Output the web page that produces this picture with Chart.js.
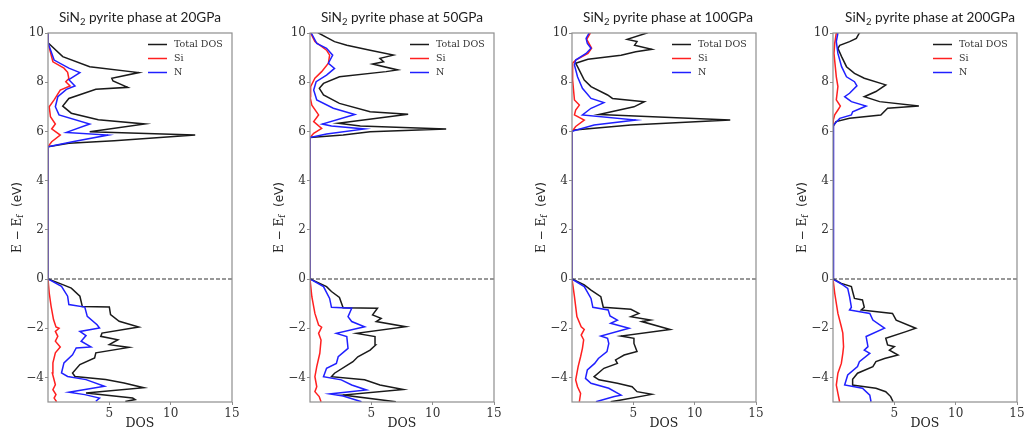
<!DOCTYPE html>
<html>
<head>
<meta charset="utf-8">
<script src="https://cdn.jsdelivr.net/npm/chart.js@4/dist/chart.umd.min.js"></script>
<style>
body{margin:0;background:#fff;overflow:hidden;width:1027px;height:434px;position:relative}
canvas{position:absolute;top:0}
</style>
</head>
<body>
<canvas id="c0"></canvas>
<canvas id="c1"></canvas>
<canvas id="c2"></canvas>
<canvas id="c3"></canvas>
<script>
// ---- data: energies (eV) and DOS for each curve ----

// 20 GPa
let e20tot=[-4.98,-4.9,-4.84,-4.63,-4.42,-4.23,-4.09,-3.96,-3.82,-3.48,-3.21,-3.0,-2.78,-2.67,-2.47,-2.33,-2.2,-1.95,-1.72,-1.45,-1.14,-1.12,-0.7,-0.37,-0.23,0,5.38,5.52,5.62,5.85,5.99,6.3,6.47,6.74,7.03,7.34,7.71,7.79,8.05,8.16,8.39,8.63,9.04,9.6,10];
let d20tot=[6.3,7.1,6.9,3.1,7.8,6.2,4.7,2.2,2.0,2.6,3.8,3.9,6.6,5.0,5.7,4.3,4.4,7.4,5.8,5.1,5.0,2.8,2.6,1.9,1.2,0,0,1.7,5.4,12.0,3.4,7.9,4.1,1.9,1.2,1.7,3.9,6.5,5.3,5.2,7.4,3.4,1.2,0,0];
let e20si=[-4.99,-4.84,-4.7,-4.5,-4.3,-3.82,-3.41,-3.0,-2.76,-2.53,-2.33,-2.13,-2.0,-1.95,-1.65,-1.1,-0.57,0,5.38,5.58,5.85,6.1,6.3,6.6,7.0,7.28,7.68,7.85,8.02,8.15,8.4,8.57,8.83,9.6,10];
let d20si=[0.7,0.5,0.65,0.4,0.6,0.35,0.4,0.6,1.0,0.6,0.8,0.6,0.9,0.65,0.45,0.25,0.1,0,0,0.3,1.0,0.3,0.6,0.2,0.1,0.5,1.0,1.8,1.45,1.7,1.6,1.3,0.4,0,0];
let e20n=[-4.97,-4.84,-4.7,-4.6,-4.36,-4.09,-3.96,-3.82,-3.41,-3.08,-2.8,-2.76,-2.53,-2.3,-2.13,-1.99,-1.86,-1.52,-1.14,-1.04,-0.7,-0.3,0,5.38,5.58,5.85,5.96,6.3,6.67,7.0,7.41,7.71,7.85,8.1,8.39,8.57,8.9,9.6,10];
let d20n=[3.9,4.2,3.0,1.7,4.6,3.1,1.6,1.1,1.3,2.0,2.3,3.5,2.7,3.1,2.6,4.2,4.0,3.2,3.0,1.7,1.6,1.1,0,0,2.0,4.9,1.5,3.4,0.9,0.6,0.8,1.5,2.2,1.7,2.6,1.7,0.5,0,0];

// 50 GPa
let e50tot=[-4.99,-4.72,-4.49,-4.31,-4.1,-3.97,-3.83,-3.36,-3.16,-2.89,-2.68,-2.34,-2.21,-1.94,-1.73,-1.6,-1.46,-1.19,-1.17,-0.75,-0.51,-0.31,0,5.75,5.85,5.99,6.1,6.22,6.33,6.7,6.8,7.14,7.48,7.75,7.95,8.22,8.43,8.5,8.74,8.83,8.97,9.1,9.3,9.5,9.65,9.82,10.0,10.1];
let d50tot=[7.0,2.7,7.6,5.7,4.45,1.75,2.0,3.5,3.9,4.9,5.35,5.3,3.8,7.8,5.4,5.8,5.1,5.5,2.7,2.4,1.75,1.35,0,0,2.7,4.9,11.1,4.1,2.3,8.0,4.9,2.4,1.1,0.76,1.1,2.4,6.2,7.15,5.1,6.0,5.7,6.8,4.9,3.0,2.0,1.35,0.7,0.4];
let e50si=[-4.99,-4.78,-4.58,-4.38,-3.97,-3.56,-3.02,-2.48,-2.21,-1.96,-1.87,-1.4,-0.72,0,5.75,5.92,6.12,6.4,6.67,7.07,7.41,7.82,8.16,8.43,8.77,9.1,9.3,9.65,10.0];
let d50si=[0.9,0.75,0.4,0.55,0.4,0.55,0.8,0.9,0.7,0.95,0.7,0.4,0.15,0,0,0.3,0.95,0.3,0.7,0.15,0,0.05,0.4,0.95,1.5,1.6,1.35,0.4,0.05];
let e50n=[-4.99,-4.76,-4.67,-4.51,-4.31,-4.1,-3.97,-3.63,-3.43,-3.16,-2.82,-2.34,-2.21,-1.94,-1.73,-1.53,-1.19,-1.15,-0.79,-0.31,0,5.75,5.89,6.1,6.22,6.3,6.69,6.94,7.28,7.68,8.02,8.29,8.56,8.77,9.1,9.38,9.58,10.0];
let d50n=[4.2,2.7,1.6,4.6,3.4,2.55,1.1,1.35,2.15,2.3,3.1,3.0,2.15,4.45,3.4,3.1,3.4,1.75,1.6,1.1,0,0,1.35,4.45,1.75,1.0,3.65,1.9,0.55,0.3,0.5,1.35,2.0,1.5,1.85,1.35,0.55,0.1];

// 100 GPa
let e100tot=[-4.99,-4.92,-4.69,-4.58,-4.38,-4.24,-4.1,-3.97,-3.63,-3.43,-3.29,-3.09,-2.95,-2.62,-2.41,-2.32,-2.05,-1.73,-1.67,-1.53,-1.4,-1.23,-1.15,-0.72,-0.45,-0.24,0,6.0,6.06,6.26,6.46,6.69,7.0,7.21,7.34,7.48,7.82,8.09,8.63,8.77,8.93,9.1,9.24,9.34,9.5,9.65,9.74,10.0,10.1];
let d100tot=[3.15,4.0,6.5,5.3,4.9,3.7,2.2,1.8,2.6,3.7,3.55,4.25,5.3,5.05,5.05,4.0,8.0,5.7,6.4,4.8,5.45,4.8,2.55,2.35,1.55,1.0,0,0,0.2,4.8,12.9,2.2,5.05,5.9,3.3,2.9,1.55,1.0,0.45,0.3,1.3,4.0,5.2,6.5,5.1,5.3,4.5,6.1,6.5];
let e100si=[-4.99,-4.65,-4.38,-4.1,-3.56,-3.16,-2.82,-2.47,-2.28,-2.05,-1.94,-1.53,-0.72,0,6.0,6.2,6.46,6.67,6.87,7.07,7.28,8.09,8.77,8.9,9.17,9.38,9.74,10.0];
let d100si=[0.6,0.7,0.45,0.3,0.5,0.7,0.85,0.95,0.75,1.0,0.75,0.4,0.2,0,0,0.3,1.0,0.2,0.3,0.6,0.2,0.05,0.05,0.3,1.3,1.6,1.2,1.5];
let e100n=[-4.99,-4.78,-4.72,-4.44,-4.24,-4.04,-3.7,-3.43,-3.23,-2.95,-2.62,-2.41,-2.32,-2.0,-1.8,-1.67,-1.5,-1.26,-1.15,-0.79,-0.31,0,6.0,6.26,6.46,6.67,6.94,7.17,7.34,7.75,8.22,8.7,8.9,9.17,9.38,9.58,9.78,10.0];
let d100n=[1.95,3.45,4.0,3.0,1.55,1.1,1.25,1.85,2.15,2.85,3.0,2.9,2.35,4.65,3.15,3.7,3.1,2.95,1.7,1.55,1.0,0,0,1.8,5.2,0.85,1.55,2.6,1.55,0.85,0.45,0.2,0.3,1.15,1.55,1.25,1.15,1.4];

// 200 GPa
let e200tot=[-4.99,-4.78,-4.58,-4.44,-4.31,-4.08,-3.83,-3.56,-3.36,-3.23,-3.09,-2.89,-2.75,-2.68,-2.41,-2.14,-2.0,-1.67,-1.4,-1.26,-1.15,-0.85,-0.79,-0.51,-0.31,-0.18,0,6.19,6.4,6.53,6.67,6.94,7.03,7.21,7.41,7.62,7.89,8.16,8.36,8.63,9.04,9.38,9.5,9.65,9.78,10.0,10.1];
let d200tot=[4.9,4.7,4.3,3.5,1.55,1.6,2.0,3.25,3.5,4.2,5.3,4.6,5.0,4.45,4.3,5.95,6.75,5.15,4.85,2.3,2.55,2.4,1.75,1.6,1.5,0.68,0,0,0.25,1.35,3.9,4.45,7.0,3.8,2.55,3.5,4.3,2.55,1.75,1.1,0.7,0.4,0.55,1.35,1.9,2.15,2.4];
let e200si=[-4.99,-4.65,-4.31,-3.83,-3.43,-3.02,-2.75,-2.2,-1.94,-1.4,-0.58,0,6.19,6.46,6.67,6.87,7.03,7.28,7.82,8.22,9.17,9.58,10.0];
let d200si=[0.54,0.4,0.27,0.4,0.68,0.8,0.86,0.8,0.68,0.4,0.14,0,0,0.05,0.14,0.4,0.6,0.27,0.4,0.27,0.08,0.14,0.27];
let e200n=[-4.99,-4.72,-4.44,-4.31,-3.9,-3.56,-3.36,-3.02,-2.89,-2.75,-2.34,-2.0,-1.67,-1.4,-1.26,-1.15,-0.72,-0.38,-0.24,0,6.19,6.26,6.53,6.67,6.8,7.03,7.21,7.41,7.55,7.85,8.02,8.22,8.63,9.17,9.65,10.0];
let d200n=[3.1,3.0,2.4,0.95,1.2,2.0,2.15,3.0,2.55,2.85,2.7,4.2,3.25,3.0,1.35,1.5,1.35,1.2,0.8,0,0,0.08,0.55,1.5,1.6,2.7,1.5,0.95,1.35,1.95,1.75,1.1,0.7,0.4,0.27,0.4];

let pressures=["20GPa","50GPa","100GPa","200GPa"];
let seriesNames=["Total DOS","Si","N"];
let fermiE=[0,0];
let fermiD=[0,15];

let curves=[
    [[e20tot,d20tot],[e20si,d20si],[e20n,d20n]],
    [[e50tot,d50tot],[e50si,d50si],[e50n,d50n]],
    [[e100tot,d100tot],[e100si,d100si],[e100n,d100n]],
    [[e200tot,d200tot],[e200si,d200si],[e200n,d200n]]
];

// ---- layout / style ----
let plotLeft=[48,310,572,833];
let titleShift=[0,0,4,5];
let plotW=184;
let yAxisW=48;
let padRight=10;
let lineColors=["#1a1a1a","#ff2020","#2020ff"];
let serif='"DejaVu Serif", serif';

function pts(E,D){
    let out=[];
    for(let i=0;i<E.length;i++){
        out.push({x:D[i],y:E[i]});
    }
    return out;
}

function minusSign(v){
    return v<0 ? "\u2212"+Math.abs(v) : ""+v;
}

// frame, legend, title and y label drawn on top of each panel
let decor={
    id:"decor",
    afterDatasetsDraw(chart,args,opts){
        let ctx=chart.ctx;
        let a=chart.chartArea;
        ctx.save();
        ctx.strokeStyle="#8e8e8e";
        ctx.lineWidth=1.2;
        ctx.strokeRect(a.left,a.top,a.right-a.left,a.bottom-a.top);

        // legend
        ctx.textBaseline="middle";
        ctx.textAlign="left";
        ctx.font="9.5px "+serif;
        for(let i=0;i<seriesNames.length;i++){
            let y=a.top+11.5+i*14;
            ctx.strokeStyle=lineColors[i];
            ctx.lineWidth=1.5;
            ctx.beginPath();
            ctx.moveTo(a.left+100,y);
            ctx.lineTo(a.left+119,y);
            ctx.stroke();
            ctx.fillStyle="#333";
            ctx.fillText(seriesNames[i],a.left+126,y);
        }

        // title with subscript
        let big="13.6px Lato";
        let small="9.5px Lato";
        let p1="SiN", p2="2", p3=" pyrite phase at "+opts.pressure;
        ctx.font=big; let w1=ctx.measureText(p1).width;
        ctx.font=small; let w2=ctx.measureText(p2).width;
        ctx.font=big; let w3=ctx.measureText(p3).width;
        let x=(a.left+a.right)/2+opts.shift-(w1+w2+w3)/2;
        ctx.textBaseline="alphabetic";
        ctx.fillStyle="#1e1e1e";
        ctx.fillText(p1,x,22);
        ctx.font=small; ctx.fillText(p2,x+w1,25);
        ctx.font=big; ctx.fillText(p3,x+w1+w2,22);

        // y axis label  E − E_f  (eV)
        ctx.translate(a.left-30,(a.top+a.bottom)/2);
        ctx.rotate(-Math.PI/2);
        let q1="E \u2212 E", q2="f", q3="  (eV)";
        ctx.font="12px "+serif; let v1=ctx.measureText(q1).width;
        ctx.font="8.5px "+serif; let v2=ctx.measureText(q2).width;
        ctx.font="12px \"DejaVu Sans\""; let v3=ctx.measureText(q3).width;
        let sx=-(v1+v2+v3)/2;
        ctx.textBaseline="middle";
        ctx.fillStyle="#262626";
        ctx.font="12px "+serif; ctx.fillText(q1,sx,0);
        ctx.font="8.5px "+serif; ctx.fillText(q2,sx+v1,3);
        ctx.font="12px \"DejaVu Sans\""; ctx.fillText(q3,sx+v1+v2,0);
        ctx.restore();
    }
};

for(let k=0;k<4;k++){
    let cv=document.getElementById("c"+k);
    let W=yAxisW+plotW+padRight;
    cv.width=W;
    cv.height=434;
    cv.style.left=(plotLeft[k]-yAxisW)+"px";

    let sets=[];
    for(let s=0;s<3;s++){
        sets.push({
            label:seriesNames[s],
            data:pts(curves[k][s][0],curves[k][s][1]),
            showLine:true,
            borderColor:lineColors[s],
            borderWidth:1.5,
            pointRadius:0,
            tension:0,
            clip:0,
            order:3-s
        });
    }
    sets.push({
        label:"Ef",
        data:pts(fermiE,fermiD),
        showLine:true,
        borderColor:"#333",
        borderWidth:1.2,
        borderDash:[4,2],
        pointRadius:0,
        clip:0,
        order:0
    });

    new Chart(cv,{
        type:"scatter",
        data:{datasets:sets},
        options:{
            responsive:false,
            animation:false,
            devicePixelRatio:1,
            layout:{padding:{top:33,right:padRight,left:0,bottom:0}},
            plugins:{
                legend:{display:false},
                tooltip:{enabled:false},
                decor:{pressure:pressures[k],shift:titleShift[k]}
            },
            scales:{
                x:{
                    type:"linear",
                    min:0,max:15,
                    afterBuildTicks:(s)=>{s.ticks=[5,10,15].map(v=>({value:v}));},
                    afterFit:(s)=>{s.height=32;},
                    grid:{drawOnChartArea:false,drawTicks:true,tickLength:3,color:"#8e8e8e"},
                    border:{display:false},
                    ticks:{font:{family:serif,size:12},color:"#333",padding:2,maxRotation:0},
                    title:{display:true,text:"DOS",font:{family:serif,size:12.5},color:"#222",padding:{top:0,bottom:3}}
                },
                y:{
                    type:"linear",
                    min:-5,max:10,
                    afterBuildTicks:(s)=>{s.ticks=[-4,-2,0,2,4,6,8,10].map(v=>({value:v}));},
                    afterFit:(s)=>{s.width=yAxisW;},
                    grid:{drawOnChartArea:false,drawTicks:true,tickLength:3,color:"#8e8e8e"},
                    border:{display:false},
                    ticks:{font:{family:serif,size:12},color:"#333",padding:1,callback:minusSign}
                }
            }
        },
        plugins:[decor]
    });
}
</script>
</body>
</html>
